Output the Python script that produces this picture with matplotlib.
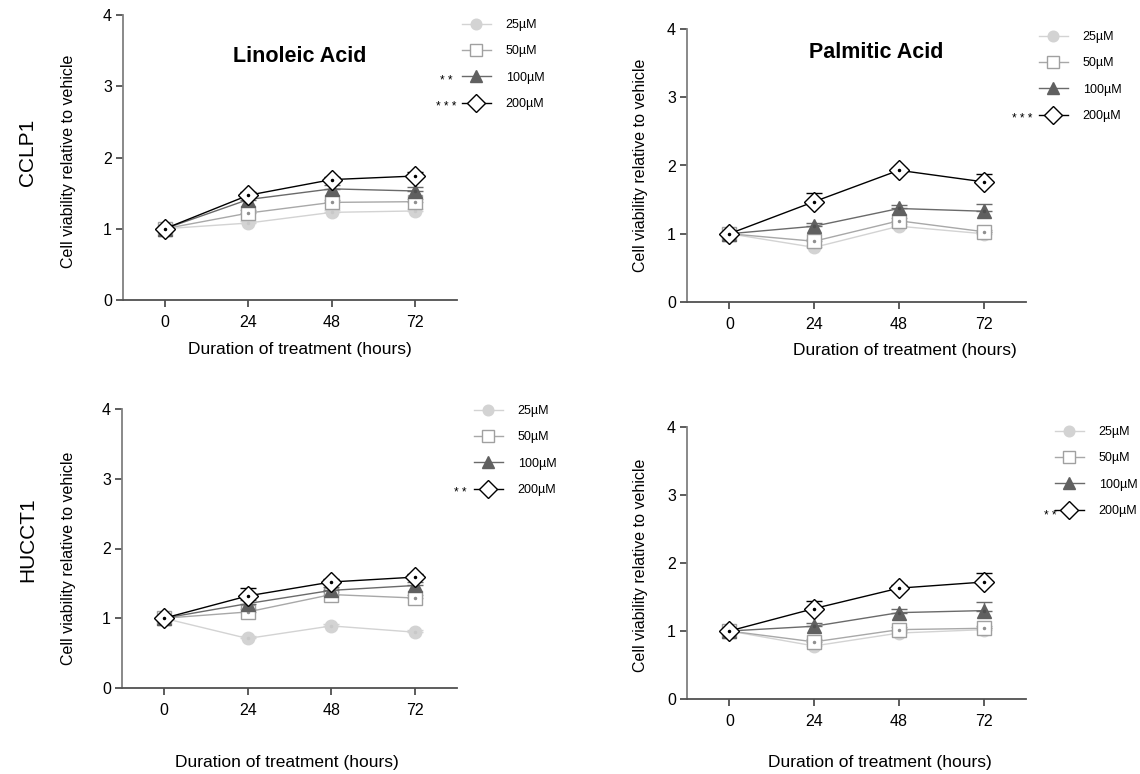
import numpy as np
import matplotlib
matplotlib.use("Agg")
import matplotlib.pyplot as plt

plt.rcParams['font.family'] = ['Liberation Sans', 'DejaVu Sans']

hours = [0, 24, 48, 72]
doses = ['25µM', '50µM', '100µM', '200µM']

# mean viability relative to vehicle, one list per dose
la_cclp1 = [[1.0, 1.08, 1.23, 1.25],
            [1.0, 1.22, 1.37, 1.38],
            [1.0, 1.41, 1.56, 1.53],
            [1.0, 1.47, 1.69, 1.74]]
pa_cclp1 = [[1.0, 0.80, 1.11, 1.00],
            [1.0, 0.89, 1.19, 1.03],
            [1.0, 1.11, 1.37, 1.33],
            [1.0, 1.47, 1.93, 1.76]]
la_hucct1 = [[1.0, 0.71, 0.89, 0.80],
             [1.0, 1.09, 1.34, 1.29],
             [1.0, 1.21, 1.40, 1.47],
             [1.0, 1.32, 1.52, 1.59]]
pa_hucct1 = [[1.0, 0.78, 0.97, 1.02],
             [1.0, 0.84, 1.02, 1.04],
             [1.0, 1.07, 1.27, 1.30],
             [1.0, 1.33, 1.63, 1.72]]

# upper error (SEM)
la_cclp1_err = [[0, 0.03, 0.03, 0.03],
                [0, 0.04, 0.04, 0.04],
                [0, 0.04, 0.05, 0.06],
                [0, 0.05, 0.04, 0.05]]
pa_cclp1_err = [[0, 0.03, 0.03, 0.03],
                [0, 0.04, 0.04, 0.03],
                [0, 0.05, 0.05, 0.10],
                [0, 0.13, 0.04, 0.11]]
la_hucct1_err = [[0, 0.03, 0.03, 0.03],
                 [0, 0.04, 0.04, 0.04],
                 [0, 0.05, 0.05, 0.05],
                 [0, 0.12, 0.04, 0.05]]
pa_hucct1_err = [[0, 0.03, 0.03, 0.03],
                 [0, 0.04, 0.04, 0.04],
                 [0, 0.05, 0.05, 0.12],
                 [0, 0.11, 0.05, 0.13]]

styles = [
    dict(color='#d3d3d3', marker='o', mfc='#d3d3d3', mec='#d3d3d3', ms=9, lw=1.0),
    dict(color='#a8a8a8', marker='s', mfc='white', mec='#a0a0a0', ms=10, lw=1.0),
    dict(color='#6a6a6a', marker='^', mfc='#606060', mec='#606060', ms=10, lw=1.0),
    dict(color='black', marker='D', mfc='white', mec='black', ms=10.5, lw=1.0),
]
dot_colors = ['#c8c8c8', '#909090', '#505050', 'black']

W, H = 1140, 774
fig = plt.figure(figsize=(W / 100, H / 100), dpi=100)


def box(l, r, t, b):
    return [l / W, 1 - b / H, (r - l) / W, (b - t) / H]


panels = [
    dict(rect=box(123, 457, 15, 300), data=la_cclp1, err=la_cclp1_err, title='Linoleic Acid',
         tpos=(300, 57), ylab=(68, 161), xlab=(300, 349), leg=(462, 19), stars={2: '* *', 3: '* * *'},
         starx=446, rows=[26, 52, 79, 105]),
    dict(rect=box(687, 1026, 29, 302), data=pa_cclp1, err=pa_cclp1_err, title='Palmitic Acid',
         tpos=(876, 53), ylab=(640, 165), xlab=(905, 351), leg=(1039, 31), stars={3: '* * *'},
         starx=1022, rows=[38, 64, 91, 117]),
    dict(rect=box(122, 457, 409, 688), data=la_hucct1, err=la_hucct1_err, title=None,
         tpos=None, ylab=(68, 558), xlab=(287, 762), leg=(474, 405), stars={3: '* *'},
         starx=460, rows=[412, 438, 465, 491]),
    dict(rect=box(687, 1026, 427, 699), data=pa_hucct1, err=pa_hucct1_err, title=None,
         tpos=None, ylab=(640, 565), xlab=(880, 762), leg=(1055, 426), stars={3: '* *'},
         starx=1050, rows=[433, 460, 487, 514]),
]

for p in panels:
    ax = fig.add_axes(p['rect'])
    handles = []
    for vals, e, st, dc in zip(p['data'], p['err'], styles, dot_colors):
        ax.errorbar(hours, vals, yerr=[np.zeros(4), e], fmt='none', ecolor=st['color'],
                    elinewidth=1.0, capsize=6, capthick=1.0)
        line, = ax.plot(hours, vals, **st)
        ax.plot(hours, vals, ls='none', marker='.', ms=3, color=dc)
        handles.append(line)
    ax.set_xlim(-12, 84)
    ax.set_ylim(0, 4)
    ax.set_xticks(hours)
    ax.set_yticks([0, 1, 2, 3, 4])
    for s in ['top', 'right']:
        ax.spines[s].set_visible(False)
    ax.spines['left'].set_color('#808080')
    ax.spines['bottom'].set_color('#505050')
    ax.spines['left'].set_linewidth(1.3)
    ax.spines['bottom'].set_linewidth(1.3)
    ax.tick_params(length=5, width=1.1, colors='#303030', labelcolor='black', labelsize=11.5, pad=6)
    ax.tick_params(axis='y', pad=3)

    fig.text(p['ylab'][0] / W, 1 - p['ylab'][1] / H, 'Cell viability relative to vehicle',
             rotation=90, ha='center', va='center', fontsize=11.5)
    fig.text(p['xlab'][0] / W, 1 - p['xlab'][1] / H, 'Duration of treatment (hours)',
             ha='center', va='center', fontsize=12.5)
    if p['title']:
        fig.text(p['tpos'][0] / W, 1 - p['tpos'][1] / H, p['title'], ha='center', va='center',
                 fontsize=15.5, fontweight='bold')

    leg = ax.legend(handles, doses, loc='upper left',
                    bbox_to_anchor=(p['leg'][0] / W, 1 - p['leg'][1] / H),
                    bbox_transform=fig.transFigure, frameon=False, fontsize=9,
                    numpoints=1, handlelength=2.3, handletextpad=1.2, labelspacing=1.15,
                    borderpad=0, borderaxespad=0, markerscale=0.85)
    for i, s in p['stars'].items():
        fig.text(p['starx'] / W, 1 - (p['rows'][i] + 2) / H, s, ha='center', va='center',
                 fontsize=8.5)

fig.text(28 / W, 1 - 152 / H, 'CCLP1', rotation=90, ha='center', va='center', fontsize=15)
fig.text(28 / W, 1 - 540 / H, 'HUCCT1', rotation=90, ha='center', va='center', fontsize=15)

fig.savefig('out.png', dpi=100)
